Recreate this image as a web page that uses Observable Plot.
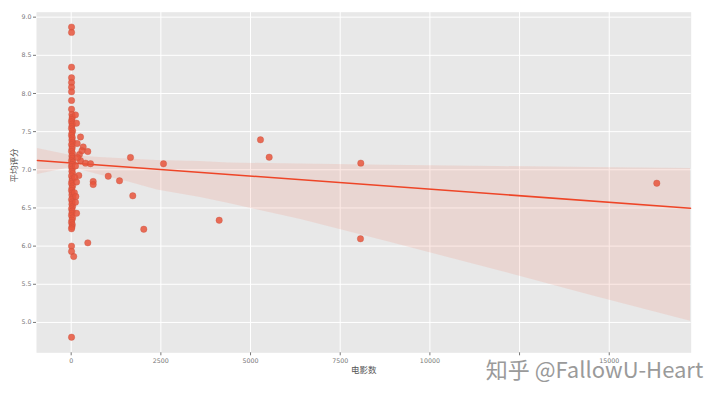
<!DOCTYPE html>
<html>
<head>
<meta charset="utf-8">
<script src="https://cdn.jsdelivr.net/npm/d3@7"></script>
<script src="https://cdn.jsdelivr.net/npm/@observablehq/plot@0.6"></script>
<style>
  html, body { margin: 0; padding: 0; background: #ffffff; }
  #chart { width: 720px; height: 398px; }
</style>
</head>
<body>
<div id="chart"></div>
<script>
// ---- data ----
const movieCount = [
  10, 10, 10, 10, 10, 10, 10, 10, 10, 20,
  30, 20, 10, 30, 20, 10, 40, 20, 10, 30,
  20, 40, 10, 30, 20, 10, 40, 20, 30, 10,
  50, 20, 10, 30, 20, 40, 10, 30, 20, 10,
  40, 20, 10, 30, 20, 50, 10, 30, 20, 40,
  10, 30, 20, 10, 40, 20, 10, 30, 20, 10,
  10, 10, 10, 70,
  120, 148, 260, 167, 335, 463, 230, 260, 400, 540,
  180, 300, 120, 212, 100, 150, 120, 150, 90, 130, 463,
  613, 613, 1032, 1347, 1653, 1717, 2024, 2573, 4126, 5277,
  5520, 8074, 8065, 16326
];
const avgRating = [
  8.87, 8.80, 8.345, 8.206, 8.144, 8.083, 8.022, 7.908, 7.794, 7.725,
  7.69, 7.66, 7.63, 7.60, 7.57, 7.54, 7.51, 7.48, 7.45, 7.42,
  7.39, 7.36, 7.33, 7.30, 7.27, 7.24, 7.21, 7.18, 7.15, 7.12,
  7.10, 7.07, 7.04, 7.01, 6.98, 6.95, 6.92, 6.88, 6.85, 6.82,
  6.79, 6.76, 6.73, 6.70, 6.67, 6.64, 6.61, 6.58, 6.55, 6.52,
  6.49, 6.46, 6.43, 6.40, 6.37, 6.34, 6.31, 6.28, 6.25, 6.227,
  6.00, 5.93, 4.806, 5.864,
  7.72, 7.61, 7.43, 7.345, 7.30, 7.24, 7.20, 7.12, 7.087, 7.08,
  7.16, 7.25, 7.05, 6.925, 6.90, 6.84, 6.575, 6.43, 6.70, 6.65, 6.043,
  6.847, 6.807, 6.916, 6.856, 7.161, 6.659, 6.221, 7.079, 6.339, 7.393,
  7.165, 7.087, 6.096, 6.824
];

// regression line (end points) and its confidence band
const fitX = [-940, 17265];
const fitY = [7.122, 6.497];
const bandX  = [-940, 0, 800, 1600, 2400, 3600, 4400, 6400, 8800, 11900, 14500, 17265];
const bandHi = [7.279, 7.187, 7.161, 7.142, 7.122, 7.109, 7.089, 7.076, 7.059, 7.043, 7.030, 7.017];
const bandLo = [6.938, 7.030, 6.933, 6.840, 6.735, 6.637, 6.558, 6.349, 6.060, 5.680, 5.353, 5.016];

const xTicks = [0, 2500, 5000, 7500, 10000, 12500, 15000];
// the 12500 label is hidden under the watermark in the reference
const xTickLabels = ["0", "2500", "5000", "7500", "10000", "", "15000"];
const yTicks = [5.0, 5.5, 6.0, 6.5, 7.0, 7.5, 8.0, 8.5, 9.0];

const xLabel = "电影数";
const yLabel = "平均评分";
const watermark = "知乎 @FallowU-Heart";

// ---- tables built from the arrays ----
const points = movieCount.map((x, i) => ({x, y: avgRating[i]}));
const fit = fitX.map((x, i) => ({x, y: fitY[i]}));
const band = bandX.map((x, i) => ({x, lo: bandLo[i], hi: bandHi[i]}));

const FONT = "'DejaVu Sans', 'Noto Sans CJK SC', sans-serif";

const chart = Plot.plot({
  width: 720,
  height: 398,
  marginLeft: 36,
  marginRight: 29.3,
  marginTop: 11.7,
  marginBottom: 45.7,
  style: {fontFamily: FONT, background: "#ffffff", overflow: "visible"},
  x: {domain: [-967, 17285]},
  y: {domain: [4.602, 9.065]},
  marks: [
    Plot.frame({fill: "#E8E8E8", stroke: null}),
    Plot.gridX(xTicks, {stroke: "#ffffff", strokeOpacity: 1, strokeWidth: 1}),
    Plot.gridY(yTicks, {stroke: "#ffffff", strokeOpacity: 1, strokeWidth: 1}),
    Plot.areaY(band, {x: "x", y1: "lo", y2: "hi", fill: "#F27A64", fillOpacity: 0.16}),
    Plot.line(fit, {x: "x", y: "y", stroke: "#EE4527", strokeWidth: 1.6}),
    Plot.dot(points, {x: "x", y: "y", r: 3.2, fill: "#E8553C", fillOpacity: 0.85, stroke: "#c8503e", strokeOpacity: 0.6, strokeWidth: 0.6}),
    Plot.axisX(xTicks, {
      tickFormat: d => xTickLabels[xTicks.indexOf(d)], tickSize: 3, tickPadding: 3,
      stroke: "#777", fill: "#777", fontSize: 6.3, label: null
    }),
    Plot.axisY(yTicks, {
      tickFormat: d3.format(".1f"), tickSize: 3, tickPadding: 2,
      stroke: "#777", fill: "#777", fontSize: 6.3, label: null
    }),
    Plot.text([xLabel], {frameAnchor: "bottom", dy: 17, lineAnchor: "middle", fontSize: 8.5, fill: "#555", text: d => d}),
    Plot.text([yLabel], {frameAnchor: "left", dx: -22, rotate: -90, lineAnchor: "middle", fontSize: 8.5, fill: "#555", text: d => d}),
    Plot.text([watermark], {
      frameAnchor: "bottom-right", dx: 12, dy: 18, textAnchor: "end", lineAnchor: "middle",
      fontSize: 22, fill: "#9a9a9a", stroke: "#ffffff", strokeWidth: 2.5,
      fontFamily: "'Noto Sans CJK SC', 'DejaVu Sans', sans-serif", text: d => d
    })
  ]
});
document.getElementById("chart").appendChild(chart);
</script>
</body>
</html>
